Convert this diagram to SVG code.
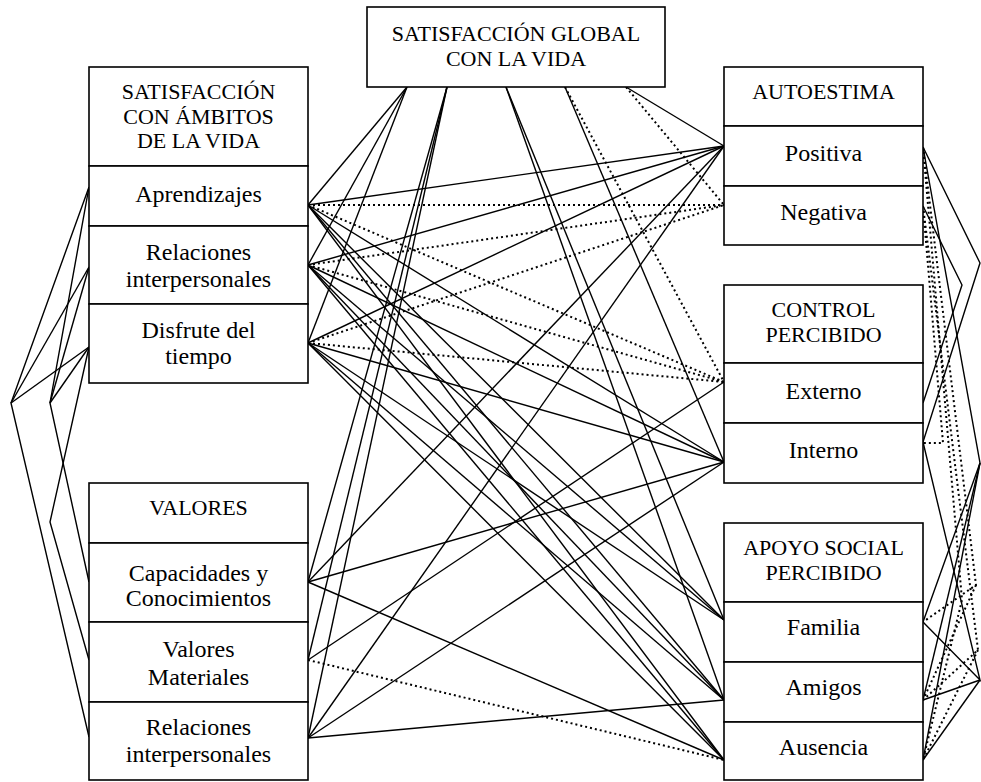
<svg xmlns="http://www.w3.org/2000/svg" width="981" height="782" viewBox="0 0 981 782">
<style>
.box{fill:#fff;stroke:#000;stroke-width:1.6}
.s{fill:none;stroke:#000;stroke-width:1.4}
.d{fill:none;stroke:#000;stroke-width:2;stroke-dasharray:2 3}
.h{font-family:"Liberation Serif","Times New Roman",serif;font-size:22px;text-anchor:middle;fill:#000}
.t{font-family:"Liberation Serif","Times New Roman",serif;font-size:24px;text-anchor:middle;fill:#000}
</style>
<rect width="981" height="782" fill="#fff"/>
<g id="connectors">
<polyline class="s" points="89,187 11,403 89,737"/>
<polyline class="s" points="89,267 11,403"/>
<polyline class="s" points="89,347 11,403"/>
<polyline class="s" points="89,187 50,403 89,582"/>
<polyline class="s" points="89,267 50,403"/>
<polyline class="s" points="89,347 50,403"/>
<polyline class="s" points="89,347 50,522 89,660"/>
<line class="s" x1="407" y1="87" x2="308" y2="205"/>
<line class="s" x1="407" y1="87" x2="308" y2="265"/>
<line class="s" x1="407" y1="87" x2="308" y2="343"/>
<line class="s" x1="447" y1="87" x2="308" y2="582"/>
<line class="s" x1="447" y1="87" x2="308" y2="660"/>
<line class="s" x1="447" y1="87" x2="308" y2="738"/>
<line class="s" x1="506" y1="87" x2="724" y2="620"/>
<line class="s" x1="506" y1="87" x2="724" y2="700"/>
<line class="s" x1="565" y1="87" x2="724" y2="462"/>
<line class="d" x1="565" y1="87" x2="724" y2="382"/>
<line class="s" x1="626" y1="87" x2="724" y2="146"/>
<line class="d" x1="626" y1="87" x2="724" y2="205"/>
<line class="s" x1="308" y1="205" x2="724" y2="146"/>
<line class="d" x1="308" y1="205" x2="724" y2="205"/>
<line class="d" x1="308" y1="205" x2="724" y2="382"/>
<line class="s" x1="308" y1="205" x2="724" y2="462"/>
<line class="s" x1="308" y1="205" x2="724" y2="620"/>
<line class="s" x1="308" y1="205" x2="724" y2="700"/>
<line class="s" x1="308" y1="205" x2="724" y2="760"/>
<line class="s" x1="308" y1="265" x2="724" y2="146"/>
<line class="d" x1="308" y1="265" x2="724" y2="205"/>
<line class="d" x1="308" y1="265" x2="724" y2="382"/>
<line class="s" x1="308" y1="265" x2="724" y2="462"/>
<line class="s" x1="308" y1="265" x2="724" y2="620"/>
<line class="s" x1="308" y1="265" x2="724" y2="700"/>
<line class="s" x1="308" y1="265" x2="724" y2="760"/>
<line class="s" x1="308" y1="343" x2="724" y2="146"/>
<line class="d" x1="308" y1="343" x2="724" y2="205"/>
<line class="d" x1="308" y1="343" x2="724" y2="382"/>
<line class="s" x1="308" y1="343" x2="724" y2="462"/>
<line class="s" x1="308" y1="343" x2="724" y2="620"/>
<line class="s" x1="308" y1="343" x2="724" y2="700"/>
<line class="s" x1="308" y1="343" x2="724" y2="760"/>
<line class="s" x1="308" y1="582" x2="724" y2="146"/>
<line class="s" x1="308" y1="582" x2="724" y2="462"/>
<line class="s" x1="308" y1="582" x2="724" y2="760"/>
<line class="s" x1="308" y1="660" x2="724" y2="382"/>
<line class="d" x1="308" y1="660" x2="724" y2="760"/>
<line class="s" x1="308" y1="738" x2="724" y2="146"/>
<line class="s" x1="308" y1="738" x2="724" y2="462"/>
<line class="s" x1="308" y1="738" x2="724" y2="700"/>
<polyline class="s" points="923,147 980,263 923,442"/>
<polyline class="s" points="923,206 962,285 923,403"/>
<polyline class="s" points="923,147 980,463 923,622"/>
<polyline class="s" points="980,463 923,700"/>
<polyline class="s" points="980,463 923,760"/>
<polyline class="s" points="923,442 980,680 923,622"/>
<polyline class="s" points="980,680 923,700"/>
<polyline class="s" points="980,680 923,760"/>
<polyline class="d" points="923,206 943,443 923,443"/>
<polyline class="d" points="923,147 976,585 923,622"/>
<polyline class="d" points="976,585 923,700"/>
<polyline class="d" points="923,206 978,650 923,700"/>
<polyline class="d" points="978,650 923,760"/>
<polyline class="d" points="923,147 962,600 923,760"/>
</g>
<g id="global">
<rect class="box" x="367" y="7" width="298" height="80"/>
<text class="h" x="516" y="41">SATISFACCIÓN GLOBAL</text>
<text class="h" x="516" y="66">CON LA VIDA</text>
</g>
<g id="ambitos">
<g id="ambitos-head"><rect class="box" x="89" y="67" width="219" height="99"/>
<text class="h" x="198.5" y="99">SATISFACCIÓN</text>
<text class="h" x="198.5" y="124">CON ÁMBITOS</text>
<text class="h" x="198.5" y="148">DE LA VIDA</text></g>
<g id="aprendizajes"><rect class="box" x="89" y="166" width="219" height="60"/>
<text class="t" x="198.5" y="202">Aprendizajes</text></g>
<g id="relaciones1"><rect class="box" x="89" y="226" width="219" height="78"/>
<text class="t" x="198.5" y="260">Relaciones</text>
<text class="t" x="198.5" y="287">interpersonales</text></g>
<g id="disfrute"><rect class="box" x="89" y="304" width="219" height="79"/>
<text class="t" x="198.5" y="338">Disfrute del</text>
<text class="t" x="198.5" y="364">tiempo</text></g>
</g>
<g id="valores">
<g id="valores-head"><rect class="box" x="89" y="483" width="219" height="60"/>
<text class="h" x="198.5" y="515">VALORES</text></g>
<g id="capacidades"><rect class="box" x="89" y="543" width="219" height="79"/>
<text class="t" x="198.5" y="581">Capacidades y</text>
<text class="t" x="198.5" y="606">Conocimientos</text></g>
<g id="materiales"><rect class="box" x="89" y="622" width="219" height="80"/>
<text class="t" x="198.5" y="657">Valores</text>
<text class="t" x="198.5" y="685">Materiales</text></g>
<g id="relaciones2"><rect class="box" x="89" y="702" width="219" height="78"/>
<text class="t" x="198.5" y="735">Relaciones</text>
<text class="t" x="198.5" y="762">interpersonales</text></g>
</g>
<g id="autoestima">
<g id="autoestima-head"><rect class="box" x="724" y="67" width="199" height="59"/>
<text class="h" x="823.5" y="99">AUTOESTIMA</text></g>
<g id="positiva"><rect class="box" x="724" y="126" width="199" height="60"/>
<text class="t" x="823.5" y="161">Positiva</text></g>
<g id="negativa"><rect class="box" x="724" y="186" width="199" height="59"/>
<text class="t" x="823.5" y="220">Negativa</text></g>
</g>
<g id="control">
<g id="control-head"><rect class="box" x="724" y="285" width="199" height="78"/>
<text class="h" x="823.5" y="317">CONTROL</text>
<text class="h" x="823.5" y="342">PERCIBIDO</text></g>
<g id="externo"><rect class="box" x="724" y="363" width="199" height="60"/>
<text class="t" x="823.5" y="399">Externo</text></g>
<g id="interno"><rect class="box" x="724" y="423" width="199" height="60"/>
<text class="t" x="823.5" y="458">Interno</text></g>
</g>
<g id="apoyo">
<g id="apoyo-head"><rect class="box" x="724" y="523" width="199" height="79"/>
<text class="h" x="823.5" y="555">APOYO SOCIAL</text>
<text class="h" x="823.5" y="580">PERCIBIDO</text></g>
<g id="familia"><rect class="box" x="724" y="602" width="199" height="60"/>
<text class="t" x="823.5" y="635">Familia</text></g>
<g id="amigos"><rect class="box" x="724" y="662" width="199" height="60"/>
<text class="t" x="823.5" y="695">Amigos</text></g>
<g id="ausencia"><rect class="box" x="724" y="722" width="199" height="58"/>
<text class="t" x="823.5" y="755">Ausencia</text></g>
</g>
</svg>
